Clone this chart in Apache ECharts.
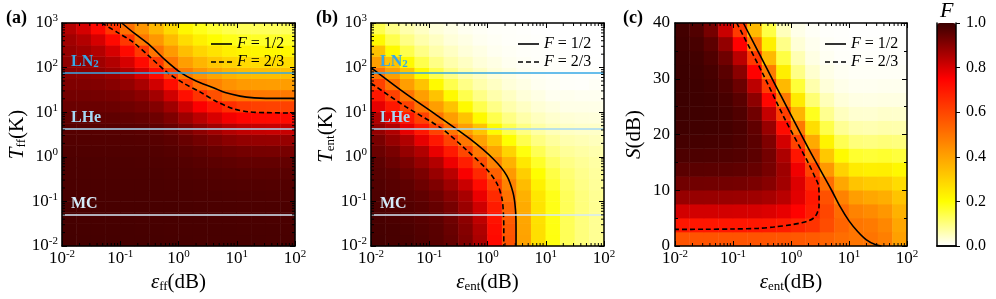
<!DOCTYPE html>
<html><head><meta charset="utf-8">
<script src="https://cdn.jsdelivr.net/npm/echarts@6/dist/echarts.min.js"></script>
<style>html,body{margin:0;padding:0;background:#fff}#c{width:996px;height:299px}</style>
</head><body><div id="c"></div>
<script>
// ---------- categories (cell centres) ----------
const logEpsCenters = [-1.875,-1.625,-1.375,-1.125,-0.875,-0.625,-0.375,-0.125,0.125,0.375,0.625,0.875,1.125,1.375,1.625,1.875];
const logTCenters = [-1.875,-1.625,-1.375,-1.125,-0.875,-0.625,-0.375,-0.125,0.125,0.375,0.625,0.875,1.125,1.375,1.625,1.875,2.125,2.375,2.625,2.875];
const sCenters = [1.25,3.75,6.25,8.75,11.25,13.75,16.25,18.75,21.25,23.75,26.25,28.75,31.25,33.75,36.25,38.75];

// ---------- fidelity maps (rows: bottom -> top) ----------
const fA = [
[.987,.986,.986,.986,.985,.985,.985,.984,.984,.983,.983,.982,.982,.982,.981,.981],
[.986,.985,.985,.985,.985,.984,.984,.983,.983,.983,.982,.982,.981,.981,.981,.980],
[.985,.984,.984,.984,.984,.983,.983,.983,.982,.982,.981,.981,.980,.980,.979,.979],
[.983,.983,.983,.983,.983,.982,.982,.982,.981,.980,.979,.979,.978,.978,.978,.977],
[.981,.981,.981,.981,.981,.981,.980,.980,.979,.978,.977,.976,.975,.975,.974,.974],
[.979,.979,.979,.979,.979,.979,.979,.978,.976,.975,.973,.971,.970,.970,.969,.969],
[.978,.978,.978,.978,.977,.977,.977,.975,.972,.970,.967,.964,.962,.961,.961,.961],
[.976,.976,.976,.976,.976,.975,.974,.972,.967,.962,.957,.952,.948,.947,.947,.947],
[.973,.973,.973,.973,.973,.972,.970,.966,.958,.950,.941,.932,.926,.924,.923,.923],
[.969,.969,.969,.969,.968,.967,.963,.956,.943,.928,.914,.898,.888,.885,.884,.884],
[.964,.964,.964,.964,.963,.960,.954,.941,.918,.894,.870,.845,.830,.824,.820,.821],
[.953,.953,.953,.952,.950,.945,.935,.914,.875,.837,.801,.764,.741,.732,.729,.729],
[.939,.939,.939,.938,.933,.924,.907,.872,.811,.754,.703,.653,.622,.613,.608,.609],
[.926,.926,.925,.921,.913,.897,.867,.810,.719,.641,.577,.519,.496,.490,.488,.488],
[.913,.913,.910,.902,.887,.859,.810,.725,.603,.510,.469,.436,.419,.414,.411,.412],
[.899,.897,.891,.877,.850,.804,.729,.613,.483,.431,.394,.363,.346,.341,.339,.339],
[.893,.887,.873,.847,.803,.730,.624,.491,.409,.358,.323,.295,.280,.275,.273,.273],
[.884,.872,.846,.802,.731,.628,.500,.418,.339,.292,.260,.235,.222,.218,.216,.216],
[.870,.846,.802,.732,.631,.492,.425,.346,.274,.232,.205,.183,.173,.169,.168,.168],
[.844,.804,.734,.634,.508,.428,.354,.281,.217,.181,.159,.141,.132,.130,.128,.128]
];
const fB = [
[.987,.983,.980,.972,.962,.945,.913,.858,.732,.570,.400,.268,.188,.132,.103,.085],
[.985,.982,.977,.970,.960,.940,.906,.850,.724,.564,.396,.268,.187,.132,.103,.085],
[.982,.979,.973,.965,.956,.933,.896,.833,.712,.552,.391,.264,.185,.132,.103,.085],
[.979,.974,.968,.960,.945,.923,.879,.811,.691,.535,.382,.259,.183,.131,.103,.085],
[.975,.969,.961,.951,.932,.902,.860,.775,.659,.504,.368,.253,.181,.130,.102,.085],
[.970,.962,.954,.935,.913,.874,.818,.727,.612,.468,.344,.227,.161,.119,.095,.080],
[.962,.955,.937,.917,.881,.838,.758,.664,.544,.421,.307,.202,.146,.110,.090,.077],
[.955,.937,.919,.884,.846,.771,.686,.583,.468,.365,.249,.169,.123,.096,.082,.072],
[.938,.920,.885,.849,.777,.695,.600,.488,.393,.293,.190,.134,.098,.080,.071,.064],
[.920,.885,.850,.780,.699,.608,.495,.403,.317,.201,.139,.099,.077,.063,.058,.052],
[.885,.850,.780,.700,.609,.500,.410,.328,.208,.139,.098,.071,.055,.046,.042,.043],
[.850,.780,.700,.610,.500,.410,.330,.210,.140,.097,.067,.050,.038,.032,.029,.028],
[.780,.700,.610,.500,.410,.330,.210,.140,.095,.065,.047,.033,.025,.019,.019,.019],
[.700,.610,.500,.410,.330,.210,.140,.095,.065,.047,.030,.021,.012,.013,.011,.012],
[.610,.500,.410,.330,.210,.140,.095,.065,.047,.030,.021,.012,.008,.005,.004,.007],
[.500,.410,.330,.210,.140,.095,.065,.047,.030,.021,.012,.008,.005,.004,.002,.003],
[.410,.330,.210,.140,.095,.065,.047,.030,.021,.012,.008,.005,.004,.002,.001,.001],
[.330,.210,.140,.095,.065,.047,.030,.021,.012,.008,.005,.004,.002,.001,0,0],
[.210,.140,.095,.065,.047,.030,.021,.012,.008,.005,.004,.002,.001,0,0,0],
[.140,.095,.065,.047,.030,.021,.012,.008,.005,.004,.002,.001,0,0,0,0]
];
const fC = [
[.571,.571,.571,.571,.571,.570,.569,.567,.561,.554,.537,.514,.497,.499,.475,.405],
[.703,.703,.703,.703,.702,.700,.696,.687,.669,.640,.587,.535,.498,.486,.459,.391],
[.808,.808,.808,.807,.805,.802,.795,.779,.746,.690,.600,.519,.467,.449,.426,.366],
[.882,.882,.881,.880,.878,.873,.862,.839,.787,.700,.575,.468,.408,.389,.375,.327],
[.930,.930,.929,.928,.925,.918,.903,.869,.794,.670,.513,.390,.328,.313,.308,.275],
[.959,.959,.958,.956,.953,.944,.923,.874,.767,.602,.422,.298,.242,.232,.234,.214],
[.976,.976,.975,.973,.968,.956,.926,.854,.705,.502,.319,.209,.164,.158,.163,.153],
[.986,.986,.985,.982,.975,.958,.913,.806,.609,.384,.222,.136,.105,.101,.106,.102],
[.992,.991,.990,.986,.977,.951,.881,.727,.488,.271,.143,.084,.064,.061,.066,.064],
[.995,.994,.992,.986,.972,.931,.824,.617,.359,.177,.088,.050,.037,.036,.041,.040],
[.997,.995,.992,.983,.960,.895,.738,.485,.244,.110,.055,.030,.022,.021,.023,.023],
[.997,.995,.989,.974,.938,.835,.621,.351,.156,.065,.030,.017,.012,.012,.013,.013],
[.997,.993,.984,.959,.899,.747,.484,.235,.095,.038,.018,.010,.007,.007,.007,.007],
[.996,.990,.973,.932,.838,.628,.348,.148,.059,.022,.010,.005,.004,.004,.004,.004],
[.993,.983,.955,.887,.747,.489,.232,.094,.032,.013,.006,.003,.002,.002,.002,.002],
[.989,.971,.924,.817,.626,.351,.146,.053,.018,.007,.003,.002,.001,.001,.001,.001]
];

// ---------- contour lines ----------
const aHalf = [[0.106,1000],[0.178,575],[0.324,316],[0.562,158],[1.06,79.4],[2.0,50.1],[3.98,35.5],[6.31,27.5],[11.4,22.9],[20,20.9],[31.6,20.4],[100,20.4]];
const aTwoThird = [[0.0479,1000],[0.0891,617],[0.166,372],[0.316,178],[0.631,79.4],[1.26,43.7],[2.34,28.5],[4.47,17.4],[8.71,12.0],[15.8,10.2],[32.4,9.77],[100,9.55]];
const bHalf = [[0.01,100],[0.0363,28.2],[0.135,8.51],[0.501,2.51],[1.26,0.891],[2.14,0.380],[2.75,0.155],[3.02,0.0661],[3.09,0.0251],[3.09,0.01]];
const bTwoThird = [[0.01,44.7],[0.0398,13.2],[0.162,4.33],[0.398,1.58],[1.0,0.501],[1.48,0.240],[1.78,0.112],[1.88,0.0501],[1.905,0.0251],[1.905,0.01]];
const cHalf = [[0.151,40],[0.501,29.5],[2.0,17.5],[5.01,10],[7.08,7],[10,4.5],[14.1,2.6],[20,1.1],[28.2,0.25],[36.3,0]];
const cTwoThird = [[0.116,40],[0.316,31.2],[0.789,22.7],[1.99,14.9],[2.63,12.2],[2.96,11.0],[3.05,9.0],[3.04,7.0],[2.82,5.9],[2.51,5.1],[2.0,4.5],[1.53,4.18],[1.0,3.8],[0.501,3.4],[0.274,3.16],[0.1,3.05],[0.0316,3.0],[0.01,2.98]];

// ---------- reference temperatures ----------
const levelNames = ['LN{s|2}','LHe','MC'];
const levelT = [77, 4.2, 0.05];
const levelColors = ['#36a8e6','#a6d8f4','#d4eaf8'];

const FONT = 'Liberation Serif';

function cmap(v){
  let r,g,b;
  if(v<=0.2){r=255;g=255;b=Math.round(255*(1-v/0.2));}
  else if(v<=0.75){r=255;g=Math.round(255*(0.75-v)/0.55);b=0;}
  else {r=Math.round(255-(v-0.75)/0.25*197);g=0;b=0;}
  return 'rgb('+r+','+g+','+b+')';
}
const stops=[];for(let k=0;k<=40;k++)stops.push(cmap(k/40));

function heat(rows){const d=[];rows.forEach((row,j)=>row.forEach((v,i)=>d.push([i,j,v])));return d;}

const supRich = {
  b:{fontSize:17,fontFamily:FONT,color:'#000',lineHeight:20},
  sup:{fontSize:11,fontFamily:FONT,color:'#000',lineHeight:8,verticalAlign:'top'}
};
const powLabel = v => '{b|10}{sup|'+Math.round(Math.log10(v))+'}';
const nameRich = {
  n:{fontSize:21,fontFamily:FONT,color:'#000'},
  i:{fontSize:21,fontFamily:FONT,fontStyle:'italic',color:'#000'},
  sub:{fontSize:13,fontFamily:FONT,color:'#000',verticalAlign:'bottom',lineHeight:12}
};
const aLine = {show:true,lineStyle:{color:'#000',width:1.5}};
const aTick = {show:true,inside:true,length:5,lineStyle:{color:'#000',width:1}};

function catAxis(g,data){return {type:'category',gridIndex:g,data:data,show:false};}
function logX(g,pos,name){
  const ax={type:'log',logBase:10,gridIndex:g,min:0.01,max:100,position:pos,z:5,axisLine:aLine,axisTick:aTick,splitLine:{show:false},
    axisLabel:{show:pos==='bottom',formatter:powLabel,rich:supRich,margin:3,showMinLabel:true,showMaxLabel:true}};
  if(name){ax.name=name;ax.nameLocation='middle';ax.nameGap=19;ax.nameTextStyle={rich:nameRich};}
  return ax;
}
function logY(g,pos,name){
  const ax={type:'log',logBase:10,gridIndex:g,min:0.01,max:1000,position:pos,z:5,axisLine:aLine,axisTick:aTick,splitLine:{show:false},
    axisLabel:{show:pos==='left',formatter:powLabel,rich:supRich,margin:4,showMinLabel:true,showMaxLabel:true}};
  if(name){ax.name=name;ax.nameLocation='middle';ax.nameGap=34;ax.nameTextStyle={rich:nameRich};}
  return ax;
}
function linY(g,pos,name){
  const ax={type:'value',gridIndex:g,min:0,max:40,interval:10,position:pos,z:5,axisLine:aLine,axisTick:aTick,
    minorTick:{show:true,splitNumber:2,length:3,lineStyle:{color:'#000',width:1}},splitLine:{show:false},minorSplitLine:{show:false},
    axisLabel:{show:pos==='left',fontSize:17,fontFamily:FONT,color:'#000',margin:5}};
  if(name){ax.name=name;ax.nameLocation='middle';ax.nameGap=30;ax.nameTextStyle={rich:nameRich};}
  return ax;
}

function minorVals(lo,hi){const out=[];for(let e=lo;e<hi;e++)for(let m=2;m<=9;m++)out.push(+(m*Math.pow(10,e)).toPrecision(3));return out;}
function minorSeries(xi,yi,vals,dir,ref){
  return {type:'custom',xAxisIndex:xi,yAxisIndex:yi,silent:true,clip:false,z:6,
    data:vals.map(v=>dir==='x'?[v,ref]:[ref,v]),
    renderItem:(params,api)=>{
      const cs=params.coordSys;const p=api.coord([api.value(0),api.value(1)]);const L=3;
      const st={stroke:'#000',lineWidth:1};
      if(dir==='x')return {type:'group',children:[
        {type:'line',shape:{x1:p[0],y1:cs.y+cs.height,x2:p[0],y2:cs.y+cs.height-L},style:st},
        {type:'line',shape:{x1:p[0],y1:cs.y,x2:p[0],y2:cs.y+L},style:st}]};
      return {type:'group',children:[
        {type:'line',shape:{x1:cs.x,y1:p[1],x2:cs.x+L,y2:p[1]},style:st},
        {type:'line',shape:{x1:cs.x+cs.width,y1:p[1],x2:cs.x+cs.width-L,y2:p[1]},style:st}]};
    }};
}
function contour(name,xi,yi,data,dashed){
  return {type:'line',name:name,xAxisIndex:xi,yAxisIndex:yi,data:data,symbol:'none',showSymbol:false,smooth:0.3,z:4,
    lineStyle:{color:'#000',width:1.6,type:dashed?[5,3]:'solid'},itemStyle:{color:'#000'},emphasis:{disabled:true}};
}
function levelSeries(xi,yi){
  return {type:'line',xAxisIndex:xi,yAxisIndex:yi,data:[],silent:true,z:3,
    markLine:{symbol:['none','none'],silent:true,animation:false,
      data:levelT.map((t,k)=>({yAxis:t,lineStyle:{color:levelColors[k],width:1.6,type:'solid'},
        label:{show:true,position:'insideStartTop',distance:[9,3],formatter:levelNames[k],color:levelColors[k],
          fontFamily:FONT,fontWeight:'bold',fontSize:16,
          rich:{s:{fontSize:11,fontWeight:'bold',fontFamily:FONT,color:levelColors[k],verticalAlign:'bottom',lineHeight:10}}}}))}};
}
const iconSolid = 'path://M0,0H21V1.6H0Z';
const iconDash = 'path://M0,0H5V1.6H0Z M8,0H13V1.6H8Z M16,0H21V1.6H16Z';
function legendAt(left){
  return {data:[{name:'F = 1/2',icon:iconSolid},{name:'F = 2/3',icon:iconDash}],left:left,top:31,orient:'vertical',
    itemGap:2,itemWidth:21,itemHeight:1.6,selectedMode:false,
    itemStyle:{color:'#000',borderWidth:0},
    formatter:n=>'{i|F}'+n.slice(1),
    textStyle:{fontFamily:FONT,fontSize:16,color:'#000',rich:{i:{fontFamily:FONT,fontSize:16,fontStyle:'italic',color:'#000'}}}};
}

const option = {
  animation:false,
  textStyle:{fontFamily:FONT},
  grid:[
    {left:62,top:23,width:233,height:223},
    {left:371,top:23,width:233,height:223},
    {left:675,top:23,width:232,height:223},
    {left:937,top:23,width:19,height:223}
  ],
  xAxis:[
    catAxis(0,logEpsCenters), logX(0,'bottom','{i|ε}{sub|ff}{n|(dB)}'), logX(0,'top'),
    catAxis(1,logEpsCenters), logX(1,'bottom','{i|ε}{sub|ent}{n|(dB)}'), logX(1,'top'),
    catAxis(2,logEpsCenters), logX(2,'bottom','{i|ε}{sub|ent}{n|(dB)}'), logX(2,'top'),
    {type:'category',gridIndex:3,data:['cb'],position:'bottom',z:10,axisLine:aLine,axisTick:{show:false},axisLabel:{show:false}},
    {type:'category',gridIndex:3,data:['cb'],position:'top',z:10,axisLine:aLine,axisTick:{show:false},axisLabel:{show:false}}
  ],
  yAxis:[
    catAxis(0,logTCenters), logY(0,'left','{i|T}{sub|ff}{n|(K)}'), logY(0,'right'),
    catAxis(1,logTCenters), logY(1,'left','{i|T}{sub|ent}{n|(K)}'), logY(1,'right'),
    catAxis(2,sCenters), linY(2,'left','{i|S}{n|(dB)}'), linY(2,'right'),
    {type:'value',gridIndex:3,min:0,max:1,interval:0.2,position:'right',z:10,axisLine:aLine,
      axisTick:{show:true,inside:false,length:4,lineStyle:{color:'#000',width:1}},splitLine:{show:false},
      axisLabel:{formatter:v=>v.toFixed(1),fontSize:16,fontFamily:FONT,color:'#000',margin:10}},
    {type:'value',gridIndex:3,min:0,max:1,position:'left',z:10,axisLine:aLine,axisTick:{show:false},axisLabel:{show:false},splitLine:{show:false}}
  ],
  visualMap:{type:'continuous',min:0,max:1,seriesIndex:[0,1,2],calculable:false,orient:'vertical',
    left:937,top:23,itemWidth:19,itemHeight:223,padding:0,inRange:{color:stops},hoverLink:false},
  legend:[legendAt(206),legendAt(513),legendAt(820)],
  graphic:[
    {type:'text',left:6,top:9,style:{text:'(a)',font:'bold 18px "Liberation Serif"',fill:'#000'}},
    {type:'text',left:316,top:9,style:{text:'(b)',font:'bold 18px "Liberation Serif"',fill:'#000'}},
    {type:'text',left:623,top:9,style:{text:'(c)',font:'bold 18px "Liberation Serif"',fill:'#000'}},
    {type:'text',left:940,top:0,style:{text:'F',font:'italic 22px "Liberation Serif"',fill:'#000'}}
  ],
  series:[
    {type:'heatmap',xAxisIndex:0,yAxisIndex:0,data:heat(fA),progressive:0,emphasis:{disabled:true}},
    {type:'heatmap',xAxisIndex:3,yAxisIndex:3,data:heat(fB),progressive:0,emphasis:{disabled:true}},
    {type:'heatmap',xAxisIndex:6,yAxisIndex:6,data:heat(fC),progressive:0,emphasis:{disabled:true}},
    contour('F = 1/2',1,1,aHalf,false), contour('F = 2/3',1,1,aTwoThird,true),
    contour('F = 1/2',4,4,bHalf,false), contour('F = 2/3',4,4,bTwoThird,true),
    contour('F = 1/2',7,7,cHalf,false), contour('F = 2/3',7,7,cTwoThird,true),
    levelSeries(1,1), levelSeries(4,4),
    minorSeries(1,1,minorVals(-2,2),'x',1), minorSeries(1,1,minorVals(-2,3),'y',1),
    minorSeries(4,4,minorVals(-2,2),'x',1), minorSeries(4,4,minorVals(-2,3),'y',1),
    minorSeries(7,7,minorVals(-2,2),'x',20),
    {type:'line',xAxisIndex:9,yAxisIndex:9,data:[]}
  ]
};
const chart = echarts.init(document.getElementById('c'));
chart.setOption(option);
</script></body></html>
